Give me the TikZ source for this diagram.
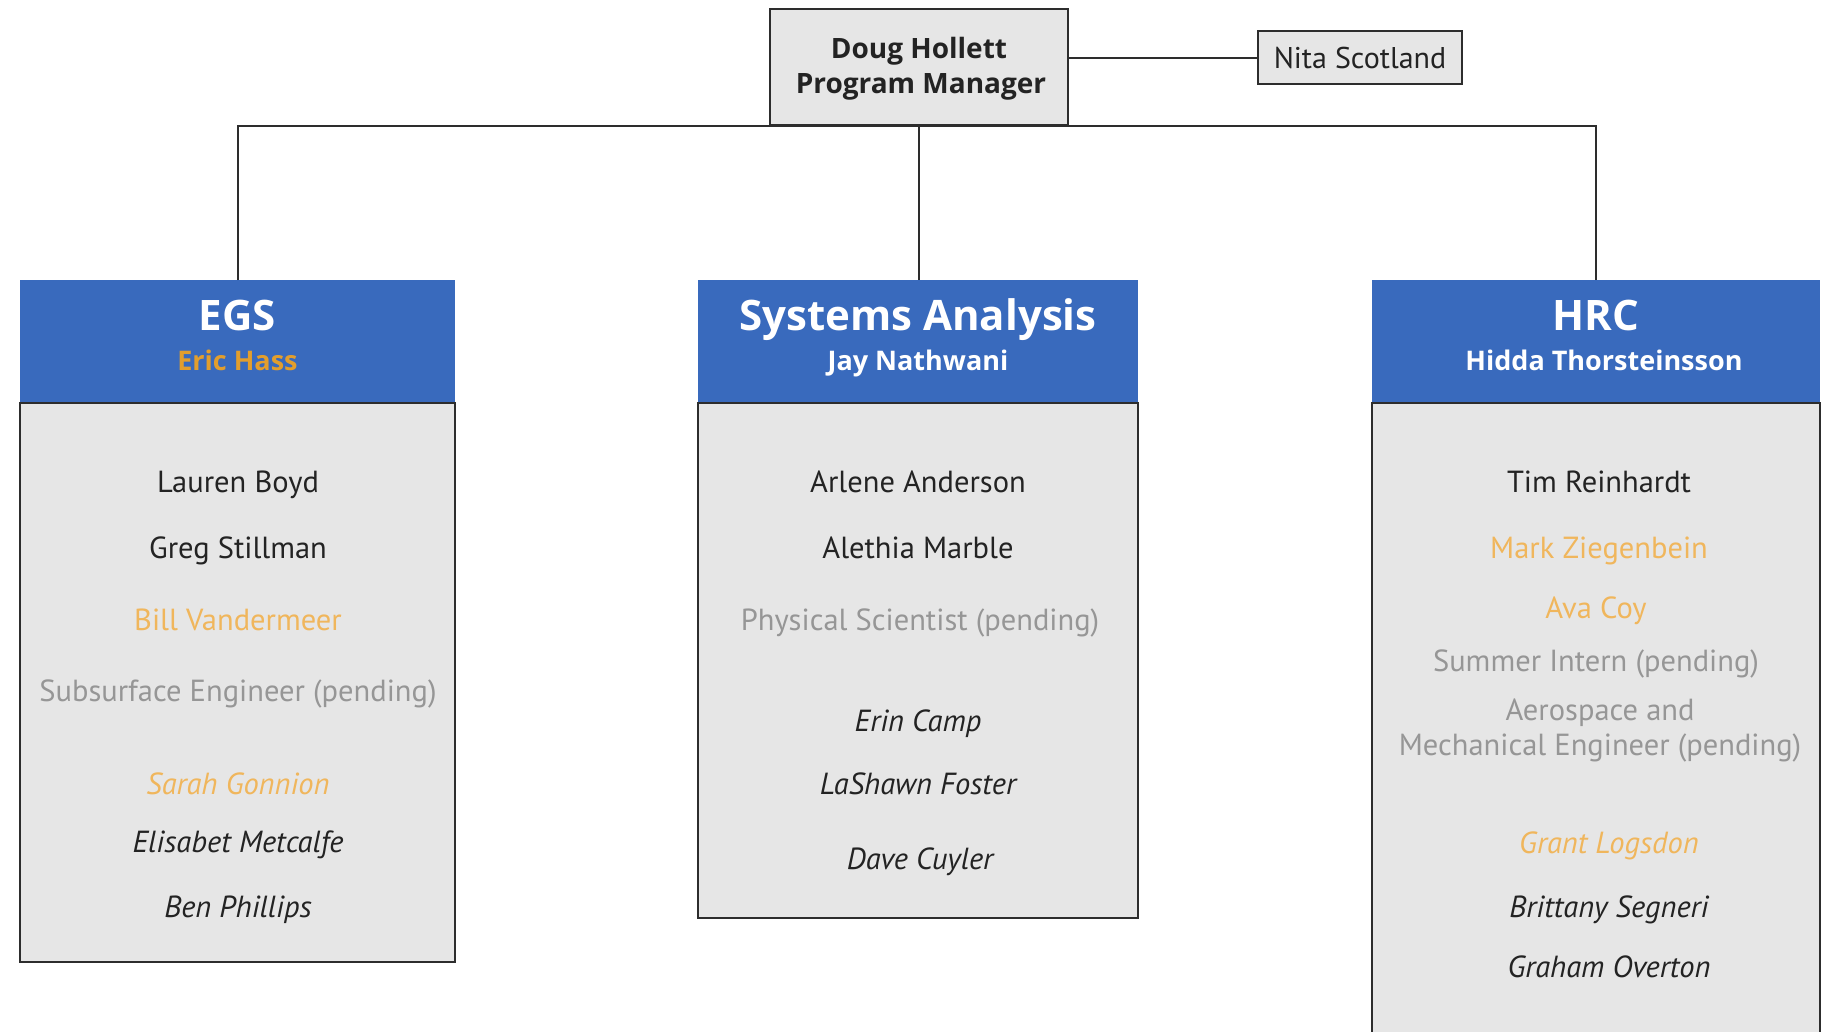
\documentclass[tikz,border=0pt]{standalone}
\usepackage{fontspec}
\setmainfont{PT Sans}
\newfontfamily\headfont{Open Sans}
\definecolor{hblue}{RGB}{57,106,189}
\definecolor{boxfill}{RGB}{230,230,230}
\definecolor{boxline}{RGB}{45,45,45}
\definecolor{namecol}{RGB}{35,35,35}
\definecolor{orangedark}{RGB}{226,158,45}
\definecolor{orangelight}{RGB}{240,182,92}
\definecolor{pendgray}{RGB}{150,150,150}
\begin{document}
\begin{tikzpicture}[x=1pt,y=-1pt,
  box/.style={draw=boxline, line width=2pt, fill=boxfill, inner sep=0pt},
  head/.style={fill=hblue, inner sep=0pt, minimum height=122pt},
  conn/.style={draw=boxline, line width=2pt},
  nm/.style={anchor=base, inner sep=0pt, text=namecol, font=\fontsize{30.5}{34}\selectfont},
  nmi/.style={nm, font=\fontsize{30.5}{34}\selectfont\itshape},
  nmo/.style={nm, text=orangelight},
  nmoi/.style={nmi, text=orangelight},
  nmp/.style={nm, text=pendgray},
  pm/.style={anchor=base, inner sep=0pt, text=namecol, font=\headfont\bfseries\fontsize{28}{32}\selectfont},
  ttl/.style={anchor=base, inner sep=0pt, text=white, font=\headfont\bfseries\fontsize{42}{46}\selectfont},
  sub/.style={anchor=base, inner sep=0pt, text=white, font=\headfont\bfseries\fontsize{27}{30}\selectfont}]
\useasboundingbox (0,0) rectangle (1822,1031);
\fill[white] (0,0) rectangle (1822,1031);

% top boxes
\node[box, minimum width=298pt, minimum height=116pt] (doug) at (919,67) {};
\node[pm] (dougN) at (919,58) {Doug Hollett};
\node[pm] (dougR) at (921,93) {Program Manager};
\node[box, minimum width=204pt, minimum height=53pt, text=namecol,
      font=\fontsize{30}{34}\selectfont] (nita) at (1360,57.5) {Nita Scotland};

% group bodies
\node[box, minimum width=435pt, minimum height=559pt, anchor=north] (egsB) at (237.5,402) {};
\node[box, minimum width=440pt, minimum height=515pt, anchor=north] (saB) at (918,402) {};
\node[box, minimum width=448pt, minimum height=660pt, anchor=north] (hrcB) at (1596,402) {};

% headers
\node[head, minimum width=435pt, anchor=north] (egsH) at (237.5,280) {};
\node[head, minimum width=440pt, anchor=north] (saH) at (918,280) {};
\node[head, minimum width=448pt, anchor=north] (hrcH) at (1596,280) {};

% connectors
\draw[conn] (nita.west) -- (nita.west -| doug.east);
\draw[conn] (doug.south) -- (doug.south |- saH.north);
\draw[conn] (egsH.north) |- (doug.south) -| (hrcH.north);

% header texts
\node[ttl] (egsT) at (237.5,330) {EGS};
\node[sub, text=orangedark] (egsS) at (237.5,370) {Eric Hass};
\node[ttl] (saT) at (918,330) {Systems Analysis};
\node[sub] (saS) at (918,370) {Jay Nathwani};
\node[ttl] (hrcT) at (1596,330) {HRC};
\node[sub] (hrcS) at (1604,370) {Hidda Thorsteinsson};

% EGS members
\node[nm] (e1) at (238,492) {Lauren Boyd};
\node[nm] (e2) at (238,558) {Greg Stillman};
\node[nmo] (e3) at (238,630) {Bill Vandermeer};
\node[nmp] (e4) at (238,701) {Subsurface Engineer (pending)};
\node[nmoi] (e5) at (238,794) {Sarah Gonnion};
\node[nmi] (e6) at (238,852) {Elisabet Metcalfe};
\node[nmi] (e7) at (238,917) {Ben Phillips};

% Systems Analysis members
\node[nm] (s1) at (918,492) {Arlene Anderson};
\node[nm] (s2) at (918,558) {Alethia Marble};
\node[nmp] (s3) at (920,630) {Physical Scientist (pending)};
\node[nmi] (s4) at (918,731) {Erin Camp};
\node[nmi] (s5) at (918,794) {LaShawn Foster};
\node[nmi] (s6) at (920,869) {Dave Cuyler};

% HRC members
\node[nm] (h1) at (1599,492) {Tim Reinhardt};
\node[nmo] (h2) at (1599,558) {Mark Ziegenbein};
\node[nmo] (h3) at (1596,618) {Ava Coy};
\node[nmp] (h4) at (1596,671) {Summer Intern (pending)};
\node[nmp] (h5) at (1600,720) {Aerospace and};
\node[nmp] (h6) at (1600,755) {Mechanical Engineer (pending)};
\node[nmoi] (h7) at (1609,853) {Grant Logsdon};
\node[nmi] (h8) at (1609,917) {Brittany Segneri};
\node[nmi] (h9) at (1609,977) {Graham Overton};
\end{tikzpicture}
\end{document}
